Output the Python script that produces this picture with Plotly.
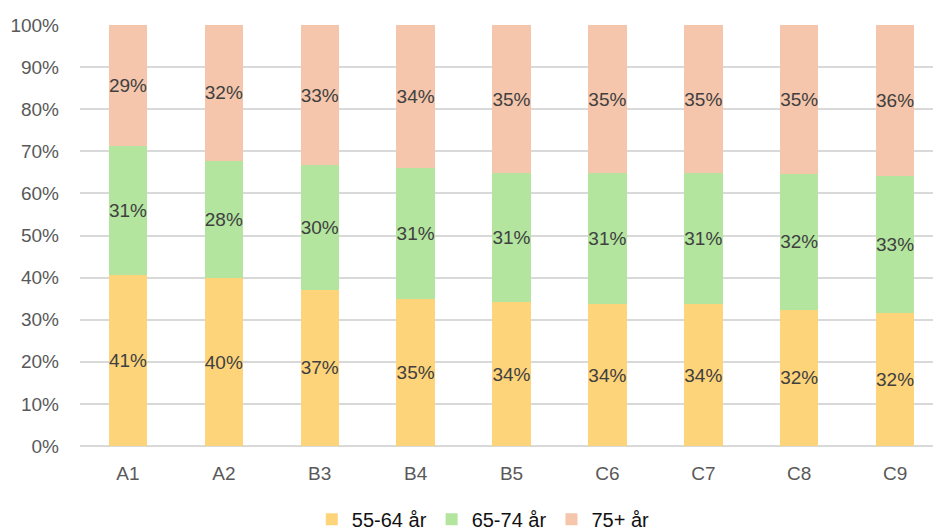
import plotly.graph_objects as go

# Age-group shares per area (percent of total, each column sums to 100)
categories = ["A1", "A2", "B3", "B4", "B5", "C6", "C7", "C8", "C9"]
age_55_64 = [40.6, 39.8, 37.1, 34.8, 34.2, 33.7, 33.7, 32.4, 31.6]
age_65_74 = [30.7, 27.9, 29.6, 31.3, 30.6, 31.1, 31.1, 32.2, 32.6]
age_75_up = [28.7, 32.3, 33.3, 33.9, 35.2, 35.2, 35.2, 35.4, 35.8]

series = [
    ("55-64 år", age_55_64, "#FED47A"),
    ("65-74 år", age_65_74, "#B3E59F"),
    ("75+ år", age_75_up, "#F5C6AB"),
]

font_family = "Liberation Sans, Arial, sans-serif"

fig = go.Figure()
for name, values, color in series:
    fig.add_trace(go.Bar(
        x=categories,
        y=values,
        name=name,
        marker=dict(color=color, line=dict(width=0)),
        text=values,
        texttemplate="%{y:.0f}%",
        textposition="inside",
        insidetextanchor="middle",
        constraintext="none",
        textangle=0,
        textfont=dict(family=font_family, size=19, color="#404040"),
        hoverinfo="skip",
    ))

fig.update_layout(
    barmode="stack",
    bargap=0.6,
    width=933,
    height=532,
    margin=dict(l=80, r=0, t=25, b=86),
    paper_bgcolor="white",
    plot_bgcolor="white",
    font=dict(family=font_family),
    legend=dict(
        orientation="h",
        xref="container",
        x=0.518,
        xanchor="center",
        yref="container",
        y=0.024,
        yanchor="middle",
        font=dict(family=font_family, size=20, color="#111111"),
        itemwidth=30,
        traceorder="normal",
    ),
    showlegend=True,
)

fig.update_xaxes(
    type="category",
    range=[-0.5, 8.395],
    showgrid=False,
    showline=False,
    ticks="",
    ticklabelstandoff=14,
    tickfont=dict(family=font_family, size=19, color="#595959"),
)

fig.update_yaxes(
    range=[0, 100],
    tickvals=[0, 10, 20, 30, 40, 50, 60, 70, 80, 90, 100],
    ticktext=[f"{v}%" for v in range(0, 101, 10)],
    showgrid=True,
    gridcolor="#D9D9D9",
    gridwidth=1.5,
    zeroline=True,
    zerolinecolor="#D9D9D9",
    zerolinewidth=1.5,
    showline=False,
    ticks="",
    ticklabelstandoff=20,
    tickfont=dict(family=font_family, size=19, color="#595959"),
)

fig.write_html("out.html")
